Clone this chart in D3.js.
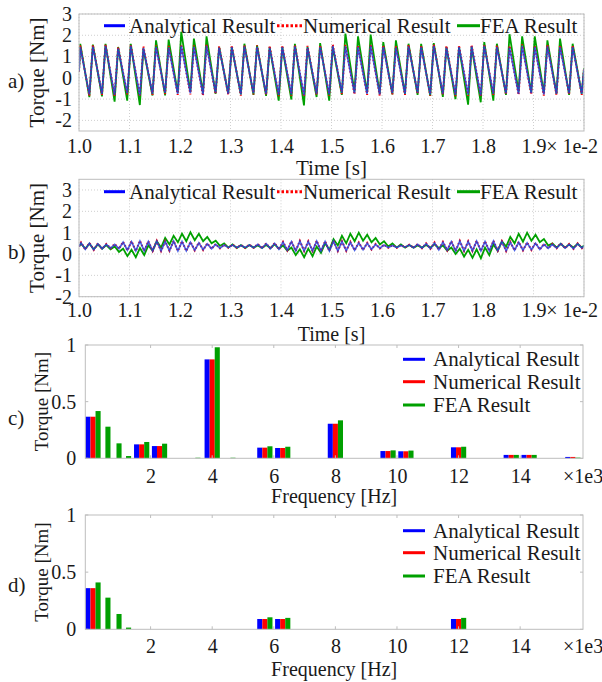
<!DOCTYPE html>
<html><head><meta charset="utf-8">
<script src="https://cdn.jsdelivr.net/npm/d3@7"></script>
<style>
body{margin:0;background:#fff}
svg{display:block}
svg text{font-family:"Liberation Serif","Tinos","Times New Roman","DejaVu Serif","Noto Serif",serif !important;fill:#1a1a1a}
</style>
</head><body>
<svg id="chart" width="602" height="682" font-family="Liberation Serif, Times New Roman, DejaVu Serif, serif"></svg>
<script>
// ---------------- DATA ----------------
const seriesNames = ["Analytical Result", "Numerical Result", "FEA Result"];

// time axis (x 1e-2 s)
const timeTicks = [1.0, 1.1, 1.2, 1.3, 1.4, 1.5, 1.6, 1.7, 1.8, 1.9];
const timeDomain = [1.0, 2.0];
const torqueTicksA = [-2, -1, 0, 1, 2, 3];
const torqueTicksB = [-2, -1, 0, 1, 2, 3];

// panel a) : sawtooth ripple, one peak + one trough per period
const aPeakStart = 1.0025, aTroughStart = 1.0205, aPeriod = 0.025;
const aFirstVal = [0.3, 0.3, 0.3];
const aLastVal = [0.4, 0.42, 0.45];
const anaA_pk = [1.45,1.47,1.5,1.38,1.5,1.4,1.45,1.42,1.5,1.45, 1.5,1.42,1.45,1.48,1.45,1.42,1.45,1.48,1.42,1.45, 1.5,1.48,1.45,1.5,1.45,1.42,1.48,1.45,1.5,1.42, 1.45,1.48,1.5,1.45,1.42,1.5,1.45,1.48,1.45,1.45];
const anaA_tr = [-0.78,-0.75,-0.8,-0.72,-0.82,-0.75,-0.7,-0.75,-0.72,-0.78, -0.7,-0.75,-0.78,-0.72,-0.75,-0.8,-0.78,-0.82,-0.75,-0.78, -0.7,-0.72,-0.75,-0.78,-0.72,-0.75,-0.7,-0.78,-0.75,-0.8, -0.78,-0.82,-0.75,-0.72,-0.75,-0.72,-0.78,-0.75,-0.72,-0.75];
const numA_pk = [1.52,1.55,1.57,1.45,1.56,1.47,1.52,1.5,1.57,1.52, 1.56,1.48,1.52,1.55,1.52,1.5,1.52,1.55,1.5,1.52, 1.57,1.55,1.52,1.57,1.52,1.5,1.55,1.52,1.57,1.5, 1.52,1.55,1.57,1.52,1.5,1.57,1.52,1.55,1.52,1.52];
const numA_tr = [-0.84,-0.8,-0.86,-0.78,-0.88,-0.8,-0.76,-0.8,-0.78,-0.84, -0.76,-0.8,-0.84,-0.78,-0.8,-0.86,-0.84,-0.88,-0.8,-0.84, -0.76,-0.78,-0.8,-0.84,-0.78,-0.8,-0.76,-0.84,-0.8,-0.86, -0.84,-0.88,-0.8,-0.78,-0.8,-0.78,-0.84,-0.8,-0.78,-0.8];
const feaA_pk = [1.6,1.56,1.6,1.45,1.6,1.37,1.76,1.8,2.16,1.84, 1.95,1.45,1.45,1.6,1.53,1.45,1.45,1.6,1.45,1.63, 1.45,2.08,1.95,2.03,1.68,1.76,1.6,1.6,1.63,1.45, 1.45,1.45,1.68,1.6,2.05,1.95,1.95,1.76,1.84,1.6];
const feaA_tr = [-0.91,-0.87,-1.12,-1.07,-1.28,-0.83,-0.83,-0.7,-0.65,-0.7, -0.75,-0.75,-0.78,-0.8,-0.85,-1.07,-1.02,-1.3,-0.9,-1.07, -0.8,-0.65,-0.7,-0.75,-0.78,-0.75,-0.8,-0.85,-0.9,-1.0, -1.26,-1.15,-1.07,-0.8,-0.65,-0.7,-0.72,-0.75,-0.8,-0.75];

// panel b) : smaller ripple, one peak + one trough per tooth
const bPeakStart = 1.004, bTroughStart = 1.0125, bPeriod = 0.016667;
const bFirstVal = [0.35, 0.35, 0.35];
const bLastVal = [0.38, 0.38, 0.4];
const anaB_pk = [0.52,0.5,0.48,0.45,0.45,0.55,0.58,0.6,0.58,0.6, 0.58,0.6,0.58,0.55,0.52,0.48,0.45,0.42,0.42,0.4, 0.42,0.45,0.48,0.5,0.55,0.58,0.6,0.58,0.6,0.58, 0.6,0.58,0.55,0.52,0.5,0.45,0.42,0.4,0.4,0.42, 0.45,0.48,0.52,0.55,0.58,0.6,0.58,0.6,0.58,0.6, 0.58,0.55,0.55,0.52,0.5,0.45,0.45,0.48,0.45,0.48];
const anaB_tr = [0.22,0.2,0.25,0.28,0.25,0.18,0.15,0.15,0.15,0.15, 0.16,0.15,0.15,0.18,0.2,0.25,0.27,0.3,0.3,0.3, 0.3,0.28,0.25,0.22,0.18,0.15,0.15,0.15,0.15,0.15, 0.15,0.16,0.18,0.2,0.22,0.27,0.3,0.3,0.32,0.3, 0.28,0.25,0.2,0.18,0.15,0.15,0.15,0.15,0.15,0.16, 0.15,0.18,0.18,0.2,0.22,0.27,0.28,0.28,0.25,0.28];
const numB_pk = [0.54,0.52,0.5,0.47,0.47,0.57,0.6,0.62,0.6,0.62, 0.6,0.62,0.6,0.57,0.54,0.5,0.47,0.44,0.44,0.42, 0.44,0.47,0.5,0.52,0.57,0.6,0.62,0.6,0.62,0.6, 0.62,0.6,0.57,0.54,0.52,0.47,0.44,0.42,0.42,0.44, 0.47,0.5,0.54,0.57,0.6,0.62,0.6,0.62,0.6,0.62, 0.6,0.57,0.57,0.54,0.52,0.47,0.47,0.5,0.47,0.5];
const numB_tr = [0.21,0.19,0.24,0.27,0.24,0.17,0.14,0.14,0.14,0.14, 0.15,0.14,0.14,0.17,0.19,0.24,0.26,0.29,0.29,0.29, 0.29,0.27,0.24,0.21,0.17,0.14,0.14,0.14,0.14,0.14, 0.14,0.15,0.17,0.19,0.21,0.26,0.29,0.29,0.31,0.29, 0.27,0.24,0.19,0.17,0.14,0.14,0.14,0.14,0.14,0.15, 0.14,0.17,0.17,0.19,0.21,0.26,0.27,0.27,0.24,0.27];
const feaB_pk = [0.48,0.48,0.45,0.42,0.35,0.25,0.2,0.28,0.4,0.6, 0.75,0.85,0.95,1.02,0.95,0.8,0.62,0.5,0.45,0.42, 0.42,0.4,0.42,0.45,0.4,0.3,0.22,0.25,0.35,0.5, 0.7,0.85,0.95,1.0,0.9,0.75,0.6,0.5,0.45,0.42, 0.4,0.42,0.45,0.4,0.3,0.25,0.2,0.22,0.3,0.45, 0.6,0.8,0.95,1.0,0.9,0.7,0.5,0.48,0.45,0.48];
const feaB_tr = [0.25,0.22,0.25,0.22,0.1,-0.1,-0.15,-0.05,0.15,0.3, 0.45,0.55,0.6,0.65,0.6,0.5,0.38,0.3,0.28,0.28, 0.3,0.28,0.28,0.25,0.15,-0.05,-0.15,-0.1,0.05,0.2, 0.4,0.5,0.6,0.62,0.55,0.45,0.35,0.3,0.3,0.3, 0.3,0.3,0.28,0.15,0.0,-0.12,-0.18,-0.2,-0.05,0.15, 0.35,0.5,0.58,0.62,0.55,0.4,0.3,0.3,0.3,0.3];

// panels c) and d) : spectra (frequency in kHz, torque in Nm)
const freqTicks = [2, 4, 6, 8, 10, 12, 14];
const freqDomain = [-0.12, 16.04];
const ampTicks = [0, 0.5, 1];
const freqC = [0.13, 0.45, 0.81, 1.12, 1.71, 2.29, 3.37, 4.0, 4.51, 5.71, 6.29, 8.0, 9.71, 10.29, 12.0, 13.71, 14.29, 15.71];
const anaC  = [0.367, 0, 0, 0, 0.123, 0.108, 0, 0.873, 0, 0.094, 0.091, 0.305, 0.064, 0.062, 0.097, 0.03, 0.03, 0.012];
const numC  = [0.367, 0, 0, 0, 0.123, 0.108, 0, 0.873, 0, 0.094, 0.091, 0.305, 0.064, 0.062, 0.097, 0.03, 0.03, 0.012];
const feaC  = [0.417, 0.279, 0.132, 0.02, 0.144, 0.129, 0.005, 0.98, 0.005, 0.106, 0.102, 0.335, 0.07, 0.068, 0.102, 0.03, 0.03, 0.006];
const freqD = [0.13, 0.45, 0.81, 1.12, 5.71, 6.29, 12.0];
const anaD  = [0.36, 0, 0, 0, 0.09, 0.09, 0.09];
const numD  = [0.36, 0, 0, 0, 0.09, 0.09, 0.09];
const feaD  = [0.41, 0.277, 0.134, 0.015, 0.105, 0.1, 0.1];

// ---------------- DRAWING ----------------
const FONT = '"Liberation Serif","Tinos","Times New Roman","DejaVu Serif","Noto Serif",serif';
const colors = ["#0000ff", "#ff0000", "#00a000"];
const boxColor = "#bdbdbd";
const svg = d3.select("#chart");

function txt(g, size) {
  return g.append("text").attr("font-family", FONT).style("font-family", FONT).style("font-size", size + "px");
}

function styleAxis(g, size) {
  g.attr("font-family", null);
  g.select(".domain").remove();
  g.selectAll("text").attr("font-family", FONT).style("font-family", FONT).style("font-size", size + "px").attr("fill", "#1a1a1a");
  g.selectAll("line").attr("stroke", boxColor);
}

function wave(first, last, pkT0, trT0, period, pk, tr) {
  const pts = [[timeDomain[0], first]];
  for (let k = 0; k < pk.length; k++) {
    pts.push([pkT0 + k * period, pk[k]]);
    if (k < tr.length) pts.push([trT0 + k * period, tr[k]]);
  }
  pts.push([timeDomain[1], last]);
  return pts;
}

function legendRow(g, y, items) {
  items.forEach(it => {
    const ln = g.append("line").attr("x1", it.x1).attr("x2", it.x2).attr("y1", y).attr("y2", y)
      .attr("stroke", it.color).attr("stroke-width", 3);
    if (it.dash) ln.attr("stroke-dasharray", "2.5,2");
    txt(g, 21).attr("x", it.tx).attr("y", y + 7).text(it.name);
  });
}

function timePanel(o) {
  const x = d3.scaleLinear().domain(timeDomain).range([o.left, o.right]);
  const y = d3.scaleLinear().domain(o.yDom).range([o.bottom, o.top]);
  const g = svg.append("g");
  const clipId = "clip" + o.id;
  g.append("clipPath").attr("id", clipId).append("rect")
    .attr("x", o.left).attr("y", o.top).attr("width", o.right - o.left).attr("height", o.bottom - o.top);
  const gx = timeTicks.concat([timeDomain[1]]);
  g.selectAll(".vg").data(gx).join("line")
    .attr("x1", d => x(d)).attr("x2", d => x(d)).attr("y1", o.top).attr("y2", o.bottom)
    .attr("stroke", "#cfcfcf").attr("stroke-dasharray", "1,2");
  g.selectAll(".hg").data(o.yTicks).join("line")
    .attr("x1", o.left).attr("x2", o.right).attr("y1", d => y(d)).attr("y2", d => y(d))
    .attr("stroke", "#cfcfcf").attr("stroke-dasharray", "1,2");
  const line = d3.line().x(d => x(d[0])).y(d => y(d[1]));
  const lg = g.append("g").attr("clip-path", `url(#${clipId})`);
  lg.append("path").attr("d", line(o.series[2])).attr("fill", "none").attr("stroke", colors[2]).attr("stroke-width", 1.8);
  lg.append("path").attr("d", line(o.series[1])).attr("fill", "none").attr("stroke", colors[1]).attr("stroke-width", 2).attr("stroke-dasharray", "1.5,2");
  lg.append("path").attr("d", line(o.series[0])).attr("fill", "none").attr("stroke", "#1f3fe0").attr("stroke-width", 1.7).attr("stroke-opacity", 0.8);
  g.append("rect").attr("x", o.left).attr("y", o.top).attr("width", o.right - o.left).attr("height", o.bottom - o.top)
    .attr("fill", "none").attr("stroke", boxColor);
  const ax = g.append("g").attr("transform", `translate(0,${o.bottom})`)
    .call(d3.axisBottom(x).tickValues(timeTicks).tickFormat(d3.format(".1f")).tickSize(0).tickPadding(o.xPad));
  styleAxis(ax, 20);
  const ay = g.append("g").attr("transform", `translate(${o.left},0)`)
    .call(d3.axisLeft(y).tickValues(o.yTicks).tickFormat(d => String(d)).tickSize(0).tickPadding(7));
  styleAxis(ay, 20);
  txt(g, 20).attr("x", 598).attr("y", o.bottom + o.xPad + 14).attr("text-anchor", "end").text("× 1e-2");
  txt(g, o.titleSize).attr("x", (o.left + o.right) / 2).attr("y", o.titleY).attr("text-anchor", "middle").text("Time [s]");
  txt(g, 21).attr("transform", `translate(44,${(o.top + o.bottom) / 2}) rotate(-90)`).attr("text-anchor", "middle").text("Torque [Nm]");
  txt(g, 21).attr("x", 8).attr("y", o.tagY).text(o.tag);
  legendRow(g, o.legY, [
    {x1: 104, x2: 125, tx: 129, color: colors[0], name: seriesNames[0]},
    {x1: 277, x2: 302, tx: 303, color: colors[1], name: seriesNames[1], dash: true},
    {x1: 457, x2: 480, tx: 480, color: colors[2], name: seriesNames[2]}
  ]);
}

function barPanel(o) {
  const x = d3.scaleLinear().domain(freqDomain).range([o.left, o.right]);
  const y = d3.scaleLinear().domain([0, 1]).range([o.bottom, o.top]);
  const g = svg.append("g");
  const bw = 0.165;
  const w = x(bw) - x(0);
  const vals = [o.ana, o.num, o.fea];
  const gb = g.append("g");
  vals.forEach((arr, s) => {
    gb.selectAll(".b" + s).data(arr.map((v, i) => ({f: o.freq[i], v}))).join("rect")
      .attr("x", d => x(d.f + (s - 1) * bw) - w / 2)
      .attr("width", w)
      .attr("y", d => y(d.v))
      .attr("height", d => y(0) - y(d.v))
      .attr("fill", colors[s]);
  });
  g.append("rect").attr("x", o.left).attr("y", o.top).attr("width", o.right - o.left).attr("height", o.bottom - o.top)
    .attr("fill", "none").attr("stroke", boxColor);
  freqTicks.forEach(t => {
    g.append("line").attr("x1", x(t)).attr("x2", x(t)).attr("y1", o.top).attr("y2", o.top + 3).attr("stroke", boxColor);
    g.append("line").attr("x1", x(t)).attr("x2", x(t)).attr("y1", o.bottom).attr("y2", o.bottom - 3).attr("stroke", boxColor);
  });
  ampTicks.forEach(t => {
    g.append("line").attr("x1", o.left).attr("x2", o.left + 3).attr("y1", y(t)).attr("y2", y(t)).attr("stroke", boxColor);
    g.append("line").attr("x1", o.right).attr("x2", o.right - 3).attr("y1", y(t)).attr("y2", y(t)).attr("stroke", boxColor);
  });
  const ax = g.append("g").attr("transform", `translate(0,${o.bottom})`)
    .call(d3.axisBottom(x).tickValues(freqTicks).tickFormat(d3.format("d")).tickSize(0).tickPadding(o.xPad));
  styleAxis(ax, 20);
  const ay = g.append("g").attr("transform", `translate(${o.left},0)`)
    .call(d3.axisLeft(y).tickValues(ampTicks).tickFormat(d => String(d)).tickSize(0).tickPadding(9));
  styleAxis(ay, 20);
  txt(g, 20).attr("x", 563).attr("y", o.bottom + o.xPad + 14).text("×1e3");
  txt(g, 20).attr("x", (o.left + o.right) / 2).attr("y", o.titleY).attr("text-anchor", "middle").text("Frequency [Hz]");
  txt(g, 19).attr("transform", `translate(48,${(o.top + o.bottom) / 2}) rotate(-90)`).attr("text-anchor", "middle").text("Torque [Nm]");
  txt(g, 21).attr("x", 8).attr("y", o.tagY).text(o.tag);
  const lg = g.append("g");
  o.legY.forEach((yy, i) => {
    lg.append("line").attr("x1", 403).attr("x2", 425).attr("y1", yy).attr("y2", yy).attr("stroke", colors[i]).attr("stroke-width", 3);
    txt(lg, 21).attr("x", 433).attr("y", yy + 7).text(seriesNames[i]);
  });
}

timePanel({
  id: "a", left: 79, right: 584, top: 14, bottom: 131, yDom: [-2.5, 3], yTicks: torqueTicksA,
  xPad: 8, titleY: 175, titleSize: 21, tagY: 88, tag: "a)", legY: 25.7,
  series: [
    wave(aFirstVal[0], aLastVal[0], aPeakStart, aTroughStart, aPeriod, anaA_pk, anaA_tr),
    wave(aFirstVal[1], aLastVal[1], aPeakStart, aTroughStart, aPeriod, numA_pk, numA_tr),
    wave(aFirstVal[2], aLastVal[2], aPeakStart, aTroughStart, aPeriod, feaA_pk, feaA_tr)
  ]
});
timePanel({
  id: "b", left: 79, right: 584, top: 179.3, bottom: 296.7, yDom: [-2, 3.5], yTicks: torqueTicksB,
  xPad: 6.5, titleY: 340.5, titleSize: 20, tagY: 259, tag: "b)", legY: 191.7,
  series: [
    wave(bFirstVal[0], bLastVal[0], bPeakStart, bTroughStart, bPeriod, anaB_pk, anaB_tr),
    wave(bFirstVal[1], bLastVal[1], bPeakStart, bTroughStart, bPeriod, numB_pk, numB_tr),
    wave(bFirstVal[2], bLastVal[2], bPeakStart, bTroughStart, bPeriod, feaB_pk, feaB_tr)
  ]
});
barPanel({
  left: 85.3, right: 583, top: 345, bottom: 458.3, xPad: 10.5, titleY: 503, tagY: 425, tag: "c)",
  legY: [359.3, 381.7, 405], freq: freqC, ana: anaC, num: numC, fea: feaC
});
barPanel({
  left: 85.3, right: 583, top: 515, bottom: 629.3, xPad: 9.5, titleY: 676, tagY: 592, tag: "d)",
  legY: [530.7, 552.7, 576], freq: freqD, ana: anaD, num: numD, fea: feaD
});
</script>
</body></html>
